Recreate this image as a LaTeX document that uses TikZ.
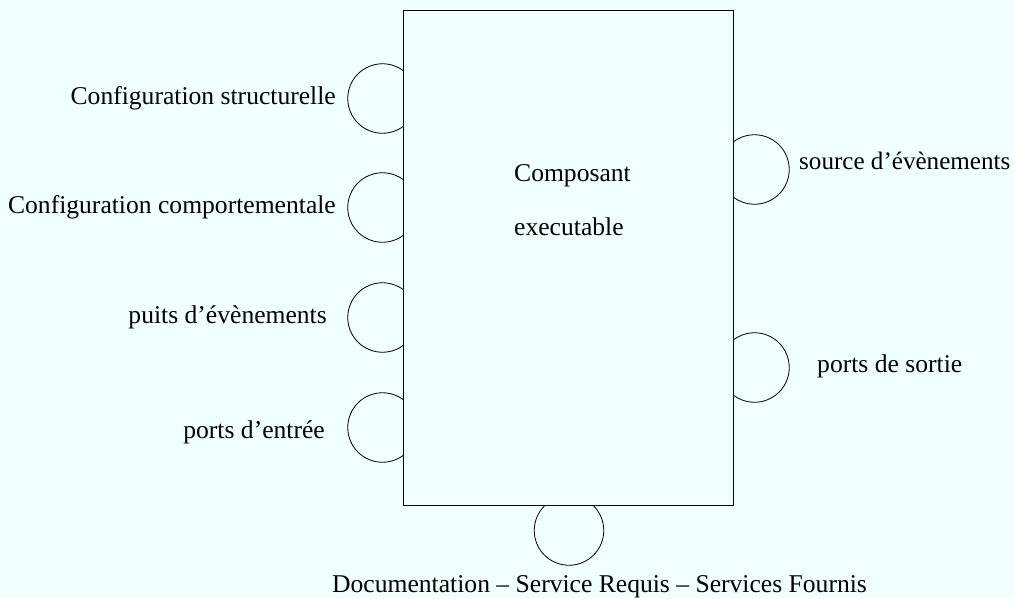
\documentclass[tikz,border=0pt]{standalone}
\usepackage{fontspec}
\setmainfont{Liberation Serif}
\definecolor{bgcol}{RGB}{240,255,255}
\begin{document}
\begin{tikzpicture}[x=1pt,y=-1pt,
  port/.style={draw=black,line width=0.8pt,circle,minimum size=69.5pt,inner sep=0pt},
  box/.style={draw=black,line width=0.9pt,fill=bgcol,rectangle,minimum width=330pt,minimum height=495pt,inner sep=0pt},
  lbl/.style={font=\fontsize{25.6}{30}\selectfont,inner sep=0pt,text=black}]
\useasboundingbox[fill=bgcol] (0,0) rectangle (1013,598);
% ports
\node[port] (p1) at (382.5,98.5) {};
\node[port] (p2) at (382.5,207.5) {};
\node[port] (p3) at (382.5,317.5) {};
\node[port] (p4) at (382.5,427.5) {};
\node[port] (p5) at (754.5,169.5) {};
\node[port] (p6) at (754.5,367.5) {};
\node[port] (p7) at (569,530.5) {};
% component box
\node[box] (comp) at (568,257.5) {};
\node[lbl,anchor=base west] (t1) at (514,181) {Composant};
\node[lbl,anchor=base west] (t2) at (514,235.5) {executable};
% labels
\node[lbl,anchor=base east] (l1) at (336,104) {Configuration structurelle};
\node[lbl,anchor=base east] (l2) at (336,213) {Configuration comportementale};
\node[lbl,anchor=base east] (l3) at (327,323) {puits d’évènements};
\node[lbl,anchor=base east] (l4) at (325,438) {ports d’entrée};
\node[lbl,anchor=base west,font=\fontsize{25.1}{30}\selectfont] (r1) at (799,169.5) {source d’évènements};
\node[lbl,anchor=base west] (r2) at (817,372.5) {ports de sortie};
\node[lbl,anchor=base west] (b1) at (332,592) {Documentation – Service Requis – Services Fournis};
\end{tikzpicture}
\end{document}
